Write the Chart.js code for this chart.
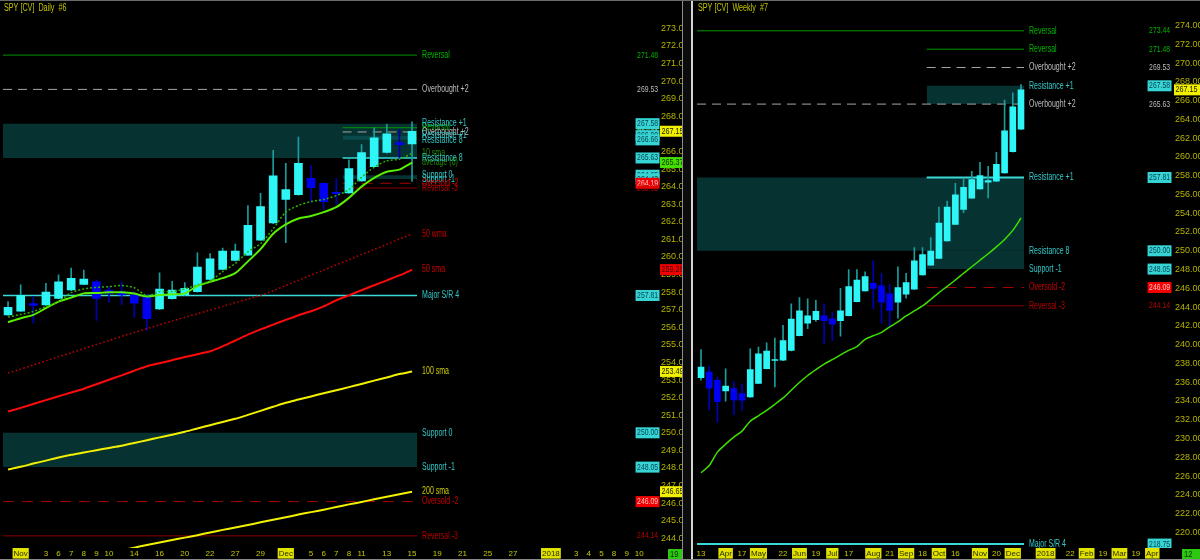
<!DOCTYPE html>
<html lang="en">
    <head>
        <meta charset="UTF-8">
        <title>SPY [CV] Daily / Weekly</title>
        <script src="https://cdn.jsdelivr.net/npm/chart.js"></script>
        <style>
            body { margin: 0; background: #000; width: 1200px; height: 560px; overflow: hidden; position: relative; }
            #daily { position: absolute; left: 0; top: 0; }
            #weekly { position: absolute; left: 694px; top: 0; }
            .split { position: absolute; left: 682px; top: 0; width: 8px; height: 560px; background: #0c0c0c;
                     border-left: 1px solid #8c8c8c; border-right: 2px solid #d4d4d4; }
            .topline { position: absolute; left: 0; top: 0; width: 1200px; height: 1px; background: #6a6a6a; }
            .bottomline { position: absolute; left: 0; top: 559px; width: 1200px; height: 1px; background: #8a8a8a; }
        </style>
    </head>
    <body>
        <canvas id="daily" width="682" height="560"></canvas>
        <div class="split"></div>
        <canvas id="weekly" width="506" height="560"></canvas>
        <div class="topline"></div>
        <div class="bottomline"></div>

        <script>
            // ---------- daily, Oct 31 .. Dec 15 2017 ----------
            const dOpen  = [256.71, 256.92, 257.35, 257.28, 257.65, 258.12, 258.44, 258.59, 258.12, 258.03, 257.84, 257.71, 257.05, 257.63, 257.84, 258.03, 258.72, 259.29, 259.80, 260.10, 260.95, 261.93, 263.27, 263.55, 264.47, 264.19, 263.68, 263.64, 264.32, 265.13, 265.94, 266.50, 266.43];
            const dHigh  = [257.46, 258.42, 257.75, 258.50, 258.99, 259.37, 259.25, 258.70, 258.31, 258.59, 258.03, 257.86, 259.10, 258.61, 258.54, 260.23, 260.19, 260.51, 260.74, 262.93, 263.62, 266.07, 265.32, 266.82, 265.19, 264.22, 264.47, 265.53, 266.39, 267.35, 267.54, 267.25, 267.69];
            const dLow   = [256.67, 256.90, 256.24, 257.24, 257.63, 258.08, 258.42, 256.39, 257.41, 257.29, 256.58, 255.81, 257.01, 257.60, 257.80, 258.00, 258.70, 259.27, 259.78, 260.09, 260.94, 261.90, 260.81, 263.51, 263.11, 262.70, 262.96, 263.62, 264.30, 265.12, 265.91, 265.60, 264.30];
            const dClose = [257.14, 257.82, 257.25, 258.01, 258.59, 258.78, 258.75, 257.65, 257.93, 257.84, 257.37, 256.49, 258.18, 258.12, 258.21, 259.42, 259.89, 260.34, 260.34, 261.80, 262.87, 264.62, 263.83, 265.33, 263.94, 263.15, 263.60, 265.03, 265.94, 266.77, 267.01, 266.39, 267.15];

            const dAvg8   = [256.29, 256.52, 256.71, 257.09, 257.46, 257.69, 257.93, 257.95, 257.99, 257.99, 257.92, 257.75, 257.84, 257.88, 257.93, 258.35, 258.59, 258.80, 259.08, 259.75, 260.45, 261.32, 261.85, 262.19, 262.33, 262.55, 262.83, 263.36, 264.00, 264.50, 264.85, 264.97, 265.37];
            const dSma10  = [256.58, 256.73, 256.90, 257.18, 257.46, 257.97, 258.18, 258.27, 258.31, 258.38, 258.25, 257.79, 258.03, 258.03, 258.18, 258.41, 258.63, 259.16, 259.63, 260.29, 260.76, 261.60, 262.55, 262.93, 263.15, 263.27, 263.49, 263.83, 264.53, 265.10, 265.47, 265.56, 265.90];
            const dWma50  = [253.40, 253.62, 253.86, 254.09, 254.32, 254.55, 254.79, 255.02, 255.25, 255.48, 255.71, 255.92, 256.15, 256.36, 256.57, 256.77, 256.98, 257.19, 257.40, 257.61, 257.82, 258.08, 258.38, 258.67, 258.97, 259.25, 259.55, 259.84, 260.14, 260.43, 260.72, 261.02, 261.31];
            const dSma50  = [251.21, 251.42, 251.64, 251.86, 252.08, 252.29, 252.51, 252.76, 253.02, 253.27, 253.53, 253.79, 253.96, 254.13, 254.31, 254.47, 254.64, 254.92, 255.25, 255.58, 255.88, 256.15, 256.42, 256.69, 256.91, 257.19, 257.54, 257.82, 258.11, 258.39, 258.67, 258.95, 259.28];
            const dSma100 = [247.92, 248.07, 248.25, 248.42, 248.60, 248.75, 248.88, 249.01, 249.14, 249.27, 249.42, 249.58, 249.74, 249.89, 250.06, 250.25, 250.43, 250.62, 250.80, 251.02, 251.25, 251.48, 251.71, 251.89, 252.07, 252.25, 252.42, 252.60, 252.78, 252.97, 253.15, 253.34, 253.49];
            const dSma200 = [242.04, 242.18, 242.33, 242.47, 242.61, 242.76, 242.90, 243.04, 243.19, 243.33, 243.47, 243.62, 243.76, 243.90, 244.04, 244.18, 244.33, 244.48, 244.62, 244.76, 244.91, 245.06, 245.20, 245.35, 245.49, 245.63, 245.78, 245.93, 246.07, 246.22, 246.36, 246.51, 246.65];
            const dMaNames = ['10 sma', 'average (8)', '50 wma', '50 sma', '100 sma', '200 sma'];

            // session index -> date label (future sessions continue past the last bar)
            const dTickIdx  = [1, 3, 4, 5, 6, 7, 8, 10, 12, 14, 16, 18, 20, 22, 24, 25, 26, 27, 28, 30, 32, 34, 36, 38, 40, 43, 45, 46, 47, 48, 49, 50];
            const dTickText = ['Nov', '3', '6', '7', '8', '9', '10', '14', '16', '20', '22', '27', '29', 'Dec', '5', '6', '7', '8', '11', '13', '15', '19', '21', '25', '27', '2018', '3', '4', '5', '8', '9', '10'];
            const dYTicks = [273, 272, 271, 270, 269, 268, 267, 266, 265, 264, 263, 262, 261, 260, 259, 258, 257, 256, 255, 254, 253, 252, 251, 250, 249, 248, 247, 246, 245, 244];
            const dNow = '19';

            const dLevelNames  = ['Reversal', 'Overbought +2', 'Resistance +1', 'Resistance 8', 'Major S/R 4', 'Support 0', 'Support -1', 'Oversold -2', 'Reversal -3'];
            const dLevelValues = [271.48, 269.53, 267.58, 265.63, 257.81, 250.00, 248.05, 246.09, 244.14];
            const dLevelKinds  = ['rev', 'ob', 'res', 'res', 'sr', 'res', 'res', 'os', 'rev3'];
            const dZoneTop     = [267.58, 250.00];
            const dZoneBottom  = [265.63, 248.05];

            // tighter set for the last sessions
            const dNearNames  = ['Reversal', 'Overbought +2', 'Resistance +1', 'Resistance 8', 'Support 0', 'Support -1', 'Oversold -2', 'Reversal -3'];
            const dNearValues = [267.35, 267.11, 266.90, 266.66, 264.65, 264.43, 264.19, 263.92];
            const dNearKinds  = ['rev', 'ob', 'res', 'res', 'res', 'res', 'os', 'rev3'];
            const dNearZoneTop    = [266.90, 264.65];
            const dNearZoneBottom = [266.66, 264.43];
            const dNearMark = [265.63];

            // ---------- weekly, Mar 13 .. Dec 11 2017 ----------
            const wOpen  = [236.47, 237.08, 236.20, 235.06, 235.31, 234.78, 234.43, 235.88, 237.43, 238.31, 238.35, 239.37, 240.96, 242.30, 242.66, 243.08, 242.76, 242.55, 243.08, 244.59, 245.73, 246.53, 246.26, 245.41, 244.52, 245.37, 245.90, 247.42, 248.48, 249.18, 251.05, 252.82, 254.41, 255.61, 256.59, 257.30, 257.41, 258.29, 260.55, 262.95];
            const wHigh  = [239.48, 237.71, 236.55, 237.43, 236.07, 235.81, 239.56, 239.74, 240.18, 240.71, 242.05, 244.35, 245.02, 244.88, 244.73, 244.35, 243.43, 246.00, 248.01, 248.01, 247.77, 248.93, 247.59, 246.36, 248.30, 247.59, 250.34, 250.34, 251.40, 254.65, 255.29, 257.20, 257.76, 258.47, 259.42, 259.00, 260.48, 266.06, 266.83, 267.71];
            const wLow   = [236.20, 233.02, 231.71, 233.97, 232.55, 232.95, 234.38, 235.85, 237.40, 235.49, 238.30, 239.34, 240.93, 241.70, 242.48, 240.07, 240.43, 240.89, 243.05, 244.54, 245.70, 243.82, 242.30, 241.95, 242.83, 244.94, 245.87, 247.39, 248.45, 249.15, 251.02, 252.79, 254.05, 255.58, 256.56, 255.64, 257.38, 258.26, 260.52, 262.91];
            const wClose = [237.61, 235.35, 233.93, 235.59, 234.11, 234.08, 237.33, 239.01, 239.30, 238.42, 240.43, 242.72, 243.61, 243.08, 243.54, 242.55, 242.19, 243.61, 246.18, 246.89, 247.24, 246.00, 244.52, 243.64, 246.08, 246.61, 248.93, 249.60, 249.96, 252.96, 254.65, 255.96, 256.77, 257.59, 258.01, 257.48, 259.21, 262.78, 265.35, 267.15];
            const wAvg   = [226.35, 227.12, 228.55, 229.40, 230.14, 230.78, 231.84, 232.42, 233.00, 233.64, 234.32, 235.14, 235.96, 236.71, 237.34, 237.92, 238.40, 238.90, 239.38, 239.78, 240.57, 240.94, 241.31, 241.89, 242.42, 243.06, 243.59, 244.12, 244.81, 245.55, 246.20, 246.89, 247.61, 248.30, 248.99, 249.68, 250.42, 251.21, 252.17, 253.49];

            const wTickIdx  = [0, 3, 5, 7, 10, 12, 14, 16, 18, 21, 23, 25, 27, 29, 31, 34, 36, 38, 42, 45, 47, 49, 51, 53, 55];
            const wTickText = ['13', 'Apr', '17', 'May', '22', 'Jun', '19', 'Jul', '17', 'Aug', '21', 'Sep', '18', 'Oct', '16', 'Nov', '20', 'Dec', '2018', '22', 'Feb', '19', 'Mar', '19', 'Apr'];
            const wYTicks = [274, 272, 270, 268, 266, 264, 262, 260, 258, 256, 254, 252, 250, 248, 246, 244, 242, 240, 238, 236, 234, 232, 230, 228, 226, 224, 222, 220];
            const wNow = '12';

            const wLevelNames  = ['Reversal', 'Reversal', 'Overbought +2', 'Resistance +1', 'Overbought +2', 'Resistance +1', 'Resistance 8', 'Support -1', 'Oversold -2', 'Reversal -3', 'Major S/R 4'];
            const wLevelValues = [273.44, 271.48, 269.53, 267.58, 265.63, 257.81, 250.00, 248.05, 246.09, 244.14, 218.75];
            const wLevelKinds  = ['rev', 'rev', 'ob', 'res', 'ob', 'sr', 'res', 'res', 'os', 'rev3', 'sr'];
            const wLevelSpan   = ['all', 'recent', 'recent', 'recent', 'all', 'recent', 'all', 'recent', 'recent', 'recent', 'all'];
            const wZoneTop    = [267.58, 257.81, 250.00];
            const wZoneBottom = [265.63, 250.00, 248.05];
            const wZoneSpan   = ['recent', 'all', 'recent'];

            // ---------- look ----------
            const FONT = '"Liberation Sans", "DejaVu Sans", sans-serif';
            const ZONE = 'rgba(12, 100, 100, 0.5)';
            const STYLE = {
                rev:  { line: '#009600', text: '#00b400', dash: [] },
                ob:   { line: '#a6a6a6', text: '#bcbcbc', dash: [9, 6] },
                res:  { line: '#3ad8d8', text: '#33c8c8', dash: [], box: '#36d4d4', boxText: '#0b4450' },
                sr:   { line: '#3ad8d8', text: '#33c8c8', dash: [], box: '#36d4d4', boxText: '#0b4450' },
                os:   { line: '#a80000', text: '#c80000', dash: [11, 8], box: '#f00000', boxText: '#ffc0c0' },
                rev3: { line: '#8c0000', text: '#b40000', dash: [] }
            };
            const isMonth = t => !/^\d{1,2}$/.test(t);

            function candles(open, high, low, close, bodyW) {
                const up = close.map((c, i) => c >= open[i]);
                return [
                    {
                        type: 'bar', grouped: false, order: 6, barThickness: 1,
                        data: high.map((h, i) => ({ x: i, y: [low[i], h] })),
                        backgroundColor: up.map(u => u ? '#1a9c9c' : '#0000b4')
                    },
                    {
                        type: 'bar', grouped: false, order: 5, barThickness: bodyW, minBarLength: 1,
                        data: open.map((o, i) => ({ x: i, y: [o, close[i]] })),
                        backgroundColor: up.map(u => u ? '#2ef6f6' : '#0000f4')
                    }
                ];
            }

            function level(v, from, to, st, width) {
                return {
                    type: 'line', order: 8, data: [{ x: from, y: v }, { x: to, y: v }],
                    borderColor: st.line, borderWidth: width || 1, borderDash: st.dash,
                    pointRadius: 0, fill: false
                };
            }

            function zone(top, bottom, from, to) {
                return {
                    type: 'line', order: 9, data: [{ x: from, y: top }, { x: to, y: top }],
                    borderWidth: 0, borderColor: 'rgba(0,0,0,0)', pointRadius: 0,
                    backgroundColor: ZONE, fill: { value: bottom }
                };
            }

            function average(vals, color, width, dash) {
                return {
                    type: 'line', order: 2, data: vals.map((v, i) => ({ x: i, y: v })),
                    borderColor: color, borderWidth: width, borderDash: dash || [],
                    pointRadius: 0, fill: false, tension: 0.25
                };
            }

            // the platform uses a narrow face; squeeze the text horizontally
            function narrowText(ctx, t, x, y, sx, right) {
                const w = ctx.measureText(t).width * sx;
                ctx.save();
                ctx.translate(right ? x - w : x, y);
                ctx.scale(sx, 1);
                ctx.textAlign = 'left';
                ctx.fillText(t, 0, 0);
                ctx.restore();
                return w;
            }

            function overlay(spec) {
                return {
                    id: 'overlay',
                    afterDatasetsDraw(chart) {
                        const { ctx, chartArea: a, scales: { x, y } } = chart;
                        ctx.save();
                        ctx.textBaseline = 'middle';
                        ctx.font = '10px ' + FONT;
                        ctx.fillStyle = '#c4c400';
                        narrowText(ctx, spec.title, a.left + 1, 8, 0.72);

                        ctx.beginPath();
                        ctx.rect(a.left, a.top, a.right - a.left, a.bottom - a.top);
                        ctx.clip();
                        const lx = x.getPixelForValue(spec.labelAt) + 5;
                        spec.labels.forEach(l => {
                            ctx.fillStyle = l.color;
                            narrowText(ctx, l.text, lx, y.getPixelForValue(l.value), 0.7);
                        });

                        ctx.font = '9px ' + FONT;
                        const vx = a.right - spec.valueGap;
                        spec.values.forEach(v => {
                            const py = y.getPixelForValue(v.value);
                            const t = v.value.toFixed(2);
                            if (v.box) {
                                const w = ctx.measureText(t).width * 0.76 + 3;
                                ctx.fillStyle = v.box;
                                ctx.fillRect(vx - w + 1.5, py - 5.5, w, 11);
                            }
                            ctx.fillStyle = v.color;
                            narrowText(ctx, t, vx, py, 0.76, true);
                        });
                        ctx.restore();

                        // current values sitting on the price axis
                        ctx.save();
                        ctx.font = '9px ' + FONT;
                        ctx.textBaseline = 'middle';
                        spec.axisBoxes.forEach(b => {
                            const py = y.getPixelForValue(b.value);
                            ctx.fillStyle = b.bg;
                            ctx.fillRect(a.right, py - 5.5, chart.width - a.right, 11);
                            ctx.fillStyle = b.fg;
                            narrowText(ctx, b.value.toFixed(2), a.right + 1.5, py, 0.8);
                        });
                        ctx.fillStyle = '#2cc810';
                        ctx.fillRect(a.right + 8, a.bottom + 1, chart.width - a.right - 8, 10);
                        ctx.fillStyle = '#0a3000';
                        narrowText(ctx, spec.now, a.right + 10, a.bottom + 6.5, 0.85);
                        ctx.restore();
                    }
                };
            }

            function scales(xMin, xMax, yMin, yMax, tickIdx, tickText, yTicks, yWidth) {
                return {
                    x: {
                        type: 'linear', min: xMin, max: xMax, offset: false,
                        grid: { display: false, drawTicks: false }, border: { display: false },
                        afterBuildTicks: s => { s.ticks = tickIdx.map(v => ({ value: v })); },
                        afterFit: s => { s.height = 12; },
                        ticks: {
                            autoSkip: false, maxRotation: 0, padding: 1,
                            font: { family: FONT, size: 8 },
                            callback: (v, i) => tickText[i],
                            color: c => isMonth(tickText[c.index]) ? '#2a2a00' : '#c8c800',
                            showLabelBackdrop: c => isMonth(tickText[c.index]),
                            backdropColor: '#e2e200',
                            backdropPadding: { top: 1, bottom: 0, left: 1, right: 1 }
                        }
                    },
                    y: {
                        type: 'linear', position: 'right', min: yMin, max: yMax,
                        grid: { display: false, drawTicks: false }, border: { display: false },
                        afterBuildTicks: s => { s.ticks = yTicks.map(v => ({ value: v })); },
                        afterFit: s => { s.width = yWidth; },
                        ticks: {
                            padding: 1, color: '#b4b400',
                            font: { family: FONT, size: 9 },
                            callback: v => v.toFixed(2)
                        }
                    }
                };
            }

            const common = {
                responsive: false, animation: false, events: [], devicePixelRatio: 1,
                layout: { padding: { left: 3, top: 3, right: 0, bottom: 0 } },
                plugins: { legend: { display: false }, tooltip: { enabled: false } }
            };

            // ---------- daily panel ----------
            const dFrom = -0.4, dEnd = 32.4, dNearFrom = 26.5;
            const dSets = [];
            dZoneTop.forEach((t, i) => dSets.push(zone(t, dZoneBottom[i], dFrom, dEnd)));
            dNearZoneTop.forEach((t, i) => dSets.push(zone(t, dNearZoneBottom[i], dNearFrom, dEnd)));
            dLevelValues.forEach((v, i) => {
                const k = dLevelKinds[i];
                if (k !== 'res') dSets.push(level(v, dFrom, dEnd, STYLE[k], k === 'sr' ? 1.5 : 1));
            });
            dNearValues.forEach((v, i) => {
                const k = dNearKinds[i];
                if (k !== 'res') dSets.push(level(v, dNearFrom, dEnd, STYLE[k]));
            });
            dNearMark.forEach(v => dSets.push(level(v, dNearFrom, dEnd, STYLE.sr, 1.5)));
            dSets.push(...candles(dOpen, dHigh, dLow, dClose, 8));
            dSets.push(average(dSma200, '#f2f200', 2));
            dSets.push(average(dSma100, '#f2f200', 2));
            dSets.push(average(dSma50, '#ff0a0a', 2));
            dSets.push(average(dWma50, '#c80000', 1.5, [1.5, 2.5]));
            dSets.push(average(dSma10, '#2cb400', 1.5, [2, 2]));
            dSets.push(average(dAvg8, '#58f000', 2));

            const dMaLast = [dSma10, dAvg8, dWma50, dSma50, dSma100, dSma200].map(a => a[a.length - 1]);
            const dMaColors = ['#1f8c00', '#1f8c00', '#c00000', '#d00000', '#cccc00', '#cccc00'];
            const dLabels = []
                .concat(dNearNames.map((n, i) => ({ text: n, value: dNearValues[i], color: STYLE[dNearKinds[i]].text })))
                .concat(dMaNames.map((n, i) => ({ text: n, value: dMaLast[i], color: dMaColors[i] })))
                .concat(dLevelNames.map((n, i) => ({ text: n, value: dLevelValues[i], color: STYLE[dLevelKinds[i]].text })));
            const valueItem = (v, k) => STYLE[k].box
                ? { value: v, box: STYLE[k].box, color: STYLE[k].boxText }
                : { value: v, color: STYLE[k].text };
            const dValues = dNearValues.map((v, i) => valueItem(v, dNearKinds[i]))
                .concat(dLevelValues.map((v, i) => valueItem(v, dLevelKinds[i])));

            new Chart(document.getElementById('daily'), {
                type: 'bar',
                data: { datasets: dSets },
                options: Object.assign({}, common, {
                    scales: scales(dFrom, 51.64, 243.45, 274.25, dTickIdx, dTickText, dYTicks, 22)
                }),
                plugins: [overlay({
                    title: 'SPY [CV]  Daily  #6', labelAt: dEnd, valueGap: 2, now: dNow,
                    labels: dLabels, values: dValues,
                    axisBoxes: [
                        { value: dClose[dClose.length - 1], bg: '#f0f000', fg: '#202000' },
                        { value: dAvg8[dAvg8.length - 1], bg: '#44dd00', fg: '#103000' },
                        { value: dSma50[dSma50.length - 1], bg: '#f00000', fg: '#400000' },
                        { value: dSma100[dSma100.length - 1], bg: '#f0f000', fg: '#202000' },
                        { value: dSma200[dSma200.length - 1], bg: '#f0f000', fg: '#202000' }
                    ]
                })]
            });

            // ---------- weekly panel ----------
            const wFrom = -0.49, wEnd = 39.37, wRecent = 27.5;
            const spanFrom = s => s === 'all' ? wFrom : wRecent;
            const wSets = [];
            wZoneTop.forEach((t, i) => wSets.push(zone(t, wZoneBottom[i], spanFrom(wZoneSpan[i]), wEnd)));
            wLevelValues.forEach((v, i) => {
                const k = wLevelKinds[i];
                if (k !== 'res') wSets.push(level(v, spanFrom(wLevelSpan[i]), wEnd, STYLE[k], k === 'sr' ? 2 : 1));
            });
            wSets.push(...candles(wOpen, wHigh, wLow, wClose, 6));
            wSets.push(average(wAvg, '#3ee000', 1.5));

            new Chart(document.getElementById('weekly'), {
                type: 'bar',
                data: { datasets: wSets },
                options: Object.assign({}, common, {
                    scales: scales(wFrom, 57.65, 218.33, 276.04, wTickIdx, wTickText, wYTicks, 26)
                }),
                plugins: [overlay({
                    title: 'SPY [CV]  Weekly  #7', labelAt: wEnd, valueGap: 4, now: wNow,
                    labels: wLevelNames.map((n, i) => ({ text: n, value: wLevelValues[i], color: STYLE[wLevelKinds[i]].text })),
                    values: wLevelValues.map((v, i) => valueItem(v, wLevelKinds[i])),
                    axisBoxes: [{ value: wClose[wClose.length - 1], bg: '#f0f000', fg: '#202000' }]
                })]
            });
        </script>
    </body>
</html>
